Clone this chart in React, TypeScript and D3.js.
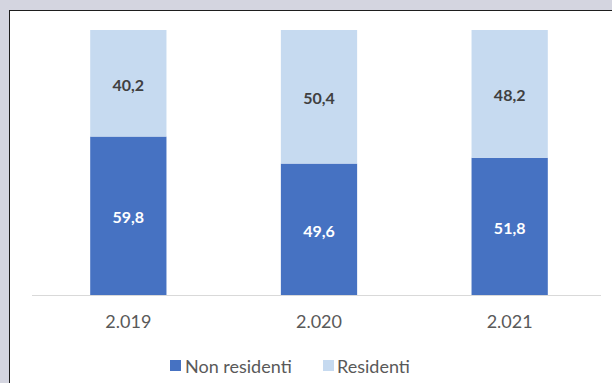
import React from "react";
import * as d3 from "d3";

const years = ["2.019", "2.020", "2.021"];
const nonResidenti = [59.8, 49.6, 51.8];
const residenti = [40.2, 50.4, 48.2];
const seriesNames = ["Non residenti", "Residenti"];
const seriesColors = ["#4672c2", "#c6daf0"];

const fmt = (v: number) => v.toFixed(1).replace(".", ",");

export default function App() {
  const W = 612, H = 383;
  const x = d3.scaleBand().domain(years).range([33, 605]).paddingInner(0.6).paddingOuter(0.3);
  const y = d3.scaleLinear().domain([0, 100]).range([295, 30]);
  const stackData = years.map((yr, i) => ({ yr, a: nonResidenti[i], b: residenti[i] }));
  const stack = d3.stack<any>().keys(["a", "b"])(stackData);
  const font = "Lato, 'Open Sans', sans-serif";
  return (
    <div style={{ position: "fixed", left: 0, top: 0 }}>
      <svg width={W} height={H} style={{ display: "block" }}>
        <rect x={0} y={0} width={W} height={H} fill="#d4d5e0" />
        <rect x={9.5} y={10.5} width={W} height={H} fill="#ffffff" stroke="#1e1e1e" strokeWidth={1} />
        <line x1={32} x2={601} y1={295.5} y2={295.5} stroke="#d9d9d9" strokeWidth={1} />
        {stack.map((layer, li) => (
          <g key={li}>
            {layer.map((d, i) => {
              const xx = x(years[i])!;
              const y0 = y(d[0]);
              const y1 = y(d[1]);
              const v = li === 0 ? nonResidenti[i] : residenti[i];
              return (
                <g key={i}>
                  <rect x={xx} y={y1} width={x.bandwidth()} height={y0 - y1} fill={seriesColors[li]} />
                  <text
                    x={xx + x.bandwidth() / 2}
                    y={(y0 + y1) / 2 + 1}
                    textAnchor="middle"
                    dominantBaseline="central"
                    fontFamily={font}
                    fontWeight="bold"
                    fontSize={16}
                    fill={li === 0 ? "#ffffff" : "#404040"}
                  >
                    {fmt(v)}
                  </text>
                </g>
              );
            })}
          </g>
        ))}
        {years.map((yr) => (
          <text
            key={yr}
            x={x(yr)! + x.bandwidth() / 2}
            y={321}
            textAnchor="middle"
            dominantBaseline="central"
            fontFamily={font}
            fontSize={18}
            fill="#595959"
          >
            {yr}
          </text>
        ))}
        <g>
          <rect x={170} y={360} width={11} height={11} fill={seriesColors[0]} />
          <text x={185} y={365.5} dominantBaseline="central" fontFamily={font} fontSize={18} fill="#595959">
            {seriesNames[0]}
          </text>
          <rect x={323} y={360} width={11} height={11} fill={seriesColors[1]} />
          <text x={337} y={365.5} dominantBaseline="central" fontFamily={font} fontSize={18} fill="#595959">
            {seriesNames[1]}
          </text>
        </g>
      </svg>
    </div>
  );
}
